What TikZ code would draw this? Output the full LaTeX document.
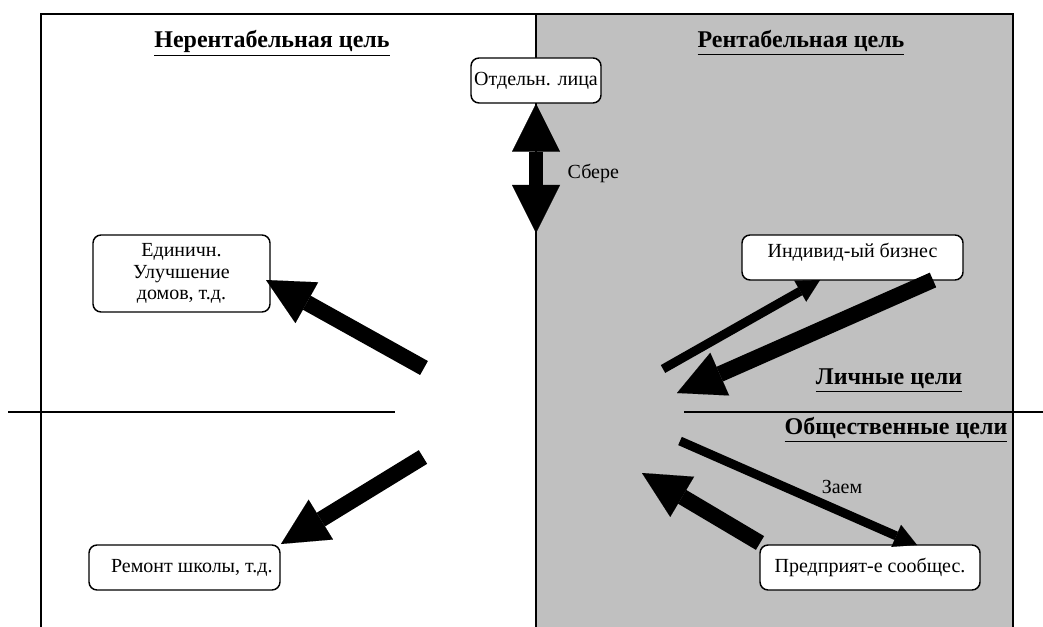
\documentclass[tikz,border=0pt]{standalone}
\usepackage{fontspec}
\setmainfont{Liberation Serif}
\usetikzlibrary{arrows.meta}
\definecolor{panelgray}{HTML}{C0C0C0}
\begin{document}
\begin{tikzpicture}[x=0.75pt,y=-0.75pt,
  box/.style={draw, line width=1.1pt, rounded corners=6pt, fill=white, align=center,
    inner sep=2pt, font=\fontsize{15}{16}\selectfont, minimum height=33.75pt},
  title/.style={font=\fontsize{18}{20}\selectfont\bfseries},
  lbl/.style={font=\fontsize{15}{17}\selectfont},
  frame/.style={line width=1.1pt},
  bigarrow/.style={line width=12pt, -{Triangle[length=35pt,width=35pt,line width=0.01pt]}},
  thinarrow/.style={line width=6.75pt, -{Triangle[length=17pt,width=18pt,line width=0.01pt]}},
  dblarrow/.style={line width=11pt,
    {Triangle[length=36pt,width=36pt,line width=0.01pt]}-{Triangle[length=36pt,width=36pt,line width=0.01pt]}},
]
\useasboundingbox (0,0) rectangle (1043,627);
\fill[panelgray] (536,14) rectangle (1013,627);
\draw[frame] (41,627) -- (41,14) -- (1013,14) -- (1013,627);
\draw[frame] (536,14) -- (536,627);
\draw[frame] (8,412) -- (395,412);
\draw[frame] (684,412) -- (1043,412);

\node[title, anchor=base] (tnon) at (272,48) {\underline{Нерентабельная цель}};
\node[title, anchor=base] (tprof) at (801,48) {\underline{Рентабельная цель}};
\node[title, anchor=base] (tpers) at (889,385) {\underline{Личные цели}};
\node[title, anchor=base] (tsoc) at (896,435) {\underline{Общественные цели}};

\node[box, minimum width=97.5pt] (otd) at (536,80.5) {Отдельн. лица};
\node[box, minimum width=132.75pt, minimum height=57.75pt] (edin) at (181.5,273.5) {Единичн.\\Улучшение\\домов, т.д.};
\node[box, minimum width=165.75pt, text height=10pt, text depth=10.5pt] (indiv) at (852.5,257.5) {Индивид-ый бизнес};
\node[box, minimum width=143.25pt] (rem) at (184.5,567.5) {\hspace*{11pt}Ремонт школы, т.д.};
\node[box, minimum width=165pt] (pred) at (870,567.5) {Предприят-е сообщес.};

\coordinate (sb) at (536,233);
\coordinate (a1s) at (424,368);
\coordinate (a1e) at (266,280);
\coordinate (a2s) at (423,457);
\coordinate (a2e) at (281,544);
\coordinate (a3s) at (663,369);
\coordinate (a3e) at (820,280);
\coordinate (a4s) at (933,280);
\coordinate (a4e) at (677,393);
\coordinate (a5s) at (680,441);
\coordinate (a5e) at (917,545);
\coordinate (a6s) at (760,543);
\coordinate (a6e) at (642,473);

\draw[dblarrow] (otd.south) -- (sb);
\draw[bigarrow] (a1s) -- (a1e);
\draw[bigarrow] (a2s) -- (a2e);
\draw[thinarrow] (a3s) -- (a3e);
\draw[bigarrow] (a4s) -- (a4e);
\draw[thinarrow] (a5s) -- (a5e);
\draw[bigarrow] (a6s) -- (a6e);

\node[lbl, anchor=west] (sbere) at (563,173) {Сбере};
\node[lbl] (zaem) at (842,487) {Заем};
\end{tikzpicture}
\end{document}
